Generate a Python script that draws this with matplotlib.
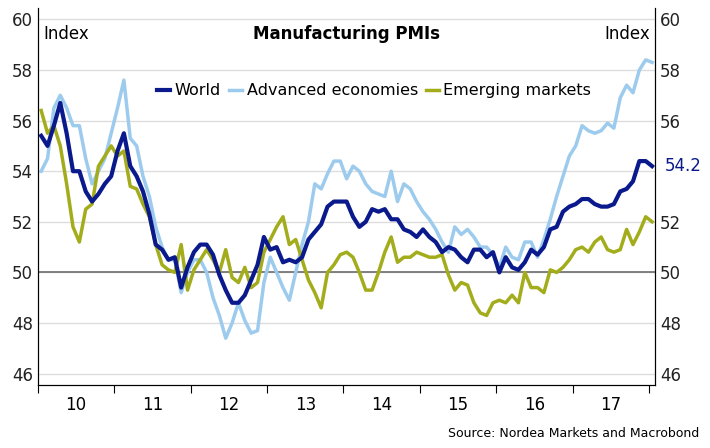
import numpy as np
import matplotlib.pyplot as plt

# monthly values, Jan 2010 .. Jan 2018
world = [55.4, 55.0, 55.8, 56.7, 55.5, 54.0, 54.0, 53.2, 52.8, 53.1, 53.5, 53.8,
         54.8, 55.5, 54.2, 53.8, 53.2, 52.3, 51.1, 50.9, 50.5, 50.6, 49.4, 50.2,
         50.8, 51.1, 51.1, 50.7, 49.9, 49.3, 48.8, 48.8, 49.1, 49.7, 50.3, 51.4,
         50.9, 51.0, 50.4, 50.5, 50.4, 50.6, 51.3, 51.6, 51.9, 52.6, 52.8, 52.8,
         52.8, 52.2, 51.8, 52.0, 52.5, 52.4, 52.5, 52.1, 52.1, 51.7, 51.6, 51.4,
         51.7, 51.4, 51.2, 50.8, 51.0, 50.9, 50.6, 50.4, 50.9, 50.9, 50.6, 50.8,
         50.0, 50.6, 50.2, 50.1, 50.4, 50.9, 50.7, 51.0, 51.7, 51.8, 52.4, 52.6,
         52.7, 52.9, 52.9, 52.7, 52.6, 52.6, 52.7, 53.2, 53.3, 53.6, 54.4, 54.4,
         54.2]
advanced = [54.0, 54.5, 56.5, 57.0, 56.5, 55.8, 55.8, 54.5, 53.5, 54.0, 54.5, 55.5,
            56.5, 57.6, 55.3, 55.0, 53.8, 53.0, 51.8, 51.0, 50.5, 50.5, 49.2, 50.0,
            50.5, 50.5, 50.0, 49.0, 48.3, 47.4, 48.0, 48.8, 48.1, 47.6, 47.7, 49.6,
            50.6, 50.0, 49.4, 48.9, 50.0, 51.1, 52.0, 53.5, 53.3, 53.9, 54.4, 54.4,
            53.7, 54.2, 54.0, 53.5, 53.2, 53.1, 53.0, 54.0, 52.8, 53.5, 53.3, 52.8,
            52.4, 52.1, 51.7, 51.2, 50.8, 51.8, 51.5, 51.7, 51.4, 51.0, 51.0, 50.7,
            50.2, 51.0, 50.6, 50.5, 51.2, 51.2, 50.6, 51.3, 52.1, 53.0, 53.8, 54.6,
            55.0, 55.8, 55.6, 55.5, 55.6, 55.9, 55.7, 56.9, 57.4, 57.1, 58.0, 58.4,
            58.3]
emerging = [56.4, 55.5, 55.8, 55.0, 53.5, 51.8, 51.2, 52.5, 52.7, 54.2, 54.6, 55.0,
            54.6, 54.8, 53.4, 53.3, 52.7, 52.2, 51.1, 50.3, 50.1, 50.0, 51.1, 49.3,
            50.1, 50.5, 50.9, 50.5, 50.0, 50.9, 49.8, 49.6, 50.2, 49.4, 49.6, 50.8,
            51.3, 51.8, 52.2, 51.1, 51.3, 50.5, 49.7, 49.2, 48.6, 50.0, 50.3, 50.7,
            50.8, 50.6, 50.0, 49.3, 49.3, 50.0, 50.8, 51.4, 50.4, 50.6, 50.6, 50.8,
            50.7, 50.6, 50.6, 50.7, 49.9, 49.3, 49.6, 49.5, 48.8, 48.4, 48.3, 48.8,
            48.9, 48.8, 49.1, 48.8, 50.0, 49.4, 49.4, 49.2, 50.1, 50.0, 50.2, 50.5,
            50.9, 51.0, 50.8, 51.2, 51.4, 50.9, 50.8, 50.9, 51.7, 51.1, 51.6, 52.2,
            52.0]
years = ['10', '11', '12', '13', '14', '15', '16', '17']

t = 2010 + np.arange(len(world)) / 12 + 1 / 24
ylo, yhi = 45.55, 60.45

fig = plt.figure(figsize=(7.1, 4.48), dpi=100)
ax = fig.add_axes([38 / 710, 63 / 448, 617 / 710, 377 / 448])

for y in range(46, 61, 2):
    ax.axhline(y, color='#dddddd', lw=1, zorder=0)
ax.axhline(50, color='#777777', lw=1.3, zorder=1)

ax.plot(t, world, color='#0a1a8c', lw=3, label='World', zorder=4)
ax.plot(t, advanced, color='#9dcbee', lw=2.5, label='Advanced economies', zorder=2)
ax.plot(t, emerging, color='#a3ad1c', lw=2.5, label='Emerging markets', zorder=3)

ax.set_xlim(2010, 2018.08)
ax.set_ylim(ylo, yhi)
ax.set_yticks(range(46, 61, 2))
ax.tick_params(axis='y', length=0, labelsize=12, colors='#222222')
ax.set_xticks(range(2010, 2019))
ax.set_xticklabels([])
ax.tick_params(axis='x', length=6)
ax.set_xticks([2010.5 + i for i in range(len(years))], minor=True)
ax.set_xticklabels(years, minor=True, fontsize=12)
ax.tick_params(axis='x', which='minor', length=0, pad=8)
ax.spines['top'].set_visible(False)

ax2 = ax.twinx()
ax2.set_ylim(ylo, yhi)
ax2.set_yticks([46, 48, 50, 52, 56, 58, 60])
ax2.tick_params(axis='y', length=0, labelsize=12, colors='#222222')
ax2.spines['top'].set_visible(False)
ax2.text(1.015, (54.2 - ylo) / (yhi - ylo), '54.2', transform=ax2.transAxes,
         color='#0a1a8c', fontsize=12, va='center')

ax.text(0.008, 0.955, 'Index', transform=ax.transAxes, fontsize=12, va='top')
ax.text(0.992, 0.955, 'Index', transform=ax.transAxes, fontsize=12, va='top', ha='right')
ax.text(0.5, 0.955, 'Manufacturing PMIs', transform=ax.transAxes, fontsize=12,
        va='top', ha='center', fontweight='bold')
leg = ax.legend(loc='center', bbox_to_anchor=(0.545, 0.78), ncol=3, frameon=True,
                fontsize=11.5, handlelength=0.8, handletextpad=0.3, columnspacing=0.5,
                borderpad=0.1, fancybox=False, framealpha=1)
leg.get_frame().set_edgecolor('none')
leg.set_zorder(10)
fig.text(0.985, 0.025, 'Source: Nordea Markets and Macrobond', ha='right', fontsize=9)

fig.savefig('out.png')
